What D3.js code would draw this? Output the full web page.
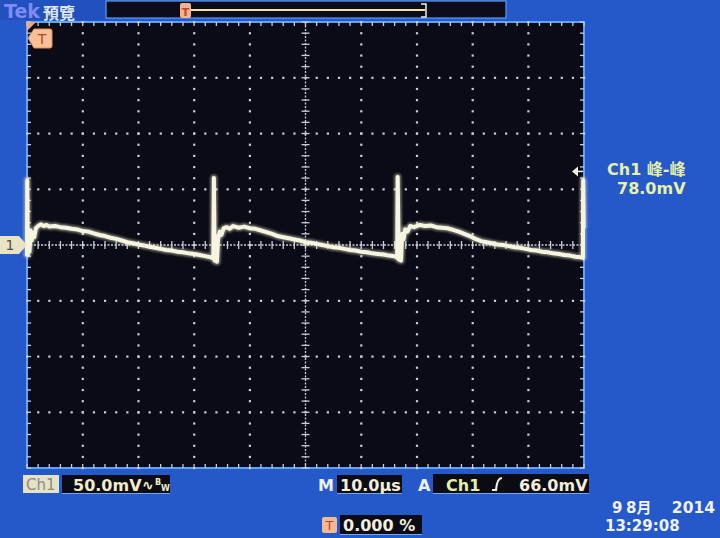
<!DOCTYPE html>
<html><head><meta charset="utf-8">
<script src="https://cdn.jsdelivr.net/npm/d3@7"></script>
<style>html,body{margin:0;padding:0;background:#2558c8;}svg{display:block;}</style>
</head><body>
<svg id="scope" width="720" height="538"></svg>
<script>
// ---- Data ----
const timeUs = [0,0.05,0.15,0.3,0.45,0.65,0.85,1.05,1.3,1.6,2,2.5,3,3.5,4,5,6,7,8,9,10,11,12,13,14,15,16,17,18,19,20,21,22,23,24,25,26,27,28,29,30,31,32,33,33.35,
 33.45,33.55,33.7,33.9,34.1,34.3,34.6,34.9,35.3,35.8,36.4,37,38,39,40,41,42,43,44,45,46,47,48,49,50,51,52,53,54,55,56,57,58,59,60,61,62,63,64,65,66,66.35,
 66.45,66.55,66.75,66.95,67.15,67.35,67.6,67.9,68.3,68.8,69.5,70.5,71.5,72.5,73.5,74.5,75.5,76.5,77.5,78.5,79.5,80.5,81.5,82.5,83.5,84.5,85.5,86.5,87.5,88.5,89.5,90.5,91.5,92.5,93.5,94.5,95.5,96.5,97.5,98.5,99.5,99.8,99.85,99.95];
const ch1mV = [-10,58,-9,14,-6,13,4,11,7,15,17,18.5,17,18,16.5,17,16,15.5,14.5,14,12.5,12,10.5,9,8,6.5,5.5,4,2.5,1.5,0.5,-0.5,-1.5,-2.5,-3.5,-4.5,-5,-6,-6.5,-7.5,-8,-9,-10,-11,-12,
 -12,60,-14,8,-15,5,12,9,15,16,14.5,17,15.5,16.5,15,14.5,13,11.5,10,8,7,6,5,4,2.5,2,1,0,-1,-2,-2.5,-3.5,-4.5,-5,-6,-6.5,-7.5,-8,-8.5,-9.5,-10,-11,
 -11.5,61,-13,6,-14,10,5,14,12,17,16,18,17,17.5,16,15.5,15,13.5,12,10,8,5.5,3.5,2.5,1.5,0.5,0,-1,-2,-2.5,-3.5,-4.5,-5,-6,-6.5,-7.5,-8,-9,-9.5,-10.5,-11,-11.5,58,15];
const gridTimeUs = [0,10,20,30,40,50,60,70,80,90,100];
const gridMv = [-200,-150,-100,-50,0,50,100,150,200];
const centerTimeUs = 50, centerMv = 0, triggerLevelMv = 66;

// ---- Layout ----
const svg = d3.select("#scope");
const L = 27, R = 584, T = 22, B = 468;
const x = d3.scaleLinear().domain([0,100]).range([L,R]);
const y = d3.scaleLinear().domain([-200,200]).range([B,T]);
const FONT = "'DejaVu Sans','Noto Sans CJK TC',sans-serif";

const defs = svg.append("defs");
const f = defs.append("filter").attr("id","glow").attr("x","-5%").attr("y","-20%").attr("width","110%").attr("height","140%");
f.append("feGaussianBlur").attr("stdDeviation",1.2);

// background
svg.append("rect").attr("width",720).attr("height",538).attr("fill","#2558c8");
svg.append("rect").attr("x",0).attr("y",0).attr("width",106).attr("height",20).attr("fill","#2250bd");

// top record bar
svg.append("rect").attr("x",106).attr("y",1).attr("width",400).attr("height",17).attr("fill","#0c0c1a").attr("stroke","#5a9cf5").attr("stroke-width",1.2);
svg.append("line").attr("x1",185).attr("x2",425).attr("y1",10).attr("y2",10).attr("stroke","#eee4a4").attr("stroke-width",2);
svg.append("path").attr("d","M421,4 H426 V17 H421").attr("fill","none").attr("stroke","#f0f0e8").attr("stroke-width",1.5);
svg.append("rect").attr("x",180).attr("y",3).attr("width",11).attr("height",15).attr("rx",2).attr("fill","#f2b38e");
svg.append("text").attr("x",185.5).attr("y",16).attr("text-anchor","middle").attr("font-family",FONT).attr("font-size",11).attr("font-weight","bold").attr("fill","#c2452a").text("T");
svg.append("text").attr("x",4).attr("y",18).attr("font-family",FONT).attr("font-size",19).attr("font-weight","bold").attr("fill","#7d8cf2").text("Tek");
svg.append("text").attr("x",43).attr("y",19).attr("font-family","'Noto Sans CJK TC',sans-serif").attr("font-size",16).attr("font-weight","bold").attr("fill","#dfe6f2").text("預覽");

// plot area
svg.append("rect").attr("x",L).attr("y",T).attr("width",R-L).attr("height",B-T).attr("fill","#0b0b17").attr("stroke","#5fa2f8").attr("stroke-width",2);

const g = svg.append("g");
const dotColor = "#c8cede";
const minorT = d3.range(0,100.01,2), minorV = d3.range(-200,200.01,10);
// dotted major gridlines
gridTimeUs.filter(t => t>0 && t<100 && t!==centerTimeUs).forEach(t => {
  minorV.forEach(v => g.append("rect").attr("x",x(t)-1).attr("y",y(v)-1).attr("width",2.2).attr("height",2.2).attr("fill",dotColor));
});
gridMv.filter(v => v>-200 && v<200 && v!==centerMv).forEach(v => {
  minorT.forEach(t => g.append("rect").attr("x",x(t)-1).attr("y",y(v)-1).attr("width",2.2).attr("height",2.2).attr("fill",dotColor));
});
// center crosshair
g.append("line").attr("x1",L).attr("x2",R).attr("y1",y(centerMv)).attr("y2",y(centerMv)).attr("stroke",dotColor).attr("stroke-width",1.3).attr("stroke-dasharray","2,1.5");
g.append("line").attr("y1",T).attr("y2",B).attr("x1",x(centerTimeUs)).attr("x2",x(centerTimeUs)).attr("stroke",dotColor).attr("stroke-width",1.3).attr("stroke-dasharray","2,1.5");
minorT.forEach(t => g.append("line").attr("x1",x(t)).attr("x2",x(t)).attr("y1",y(centerMv)-4).attr("y2",y(centerMv)+4).attr("stroke",dotColor).attr("stroke-width",1.3));
minorV.forEach(v => g.append("line").attr("y1",y(v)).attr("y2",y(v)).attr("x1",x(centerTimeUs)-4).attr("x2",x(centerTimeUs)+4).attr("stroke",dotColor).attr("stroke-width",1.3));
// edge ticks
minorT.forEach(t => {
  g.append("line").attr("x1",x(t)).attr("x2",x(t)).attr("y1",T).attr("y2",T+4).attr("stroke",dotColor).attr("stroke-width",1.3);
  g.append("line").attr("x1",x(t)).attr("x2",x(t)).attr("y1",B-4).attr("y2",B).attr("stroke",dotColor).attr("stroke-width",1.3);
});
minorV.forEach(v => {
  g.append("line").attr("y1",y(v)).attr("y2",y(v)).attr("x1",L).attr("x2",L+4).attr("stroke",dotColor).attr("stroke-width",1.3);
  g.append("line").attr("y1",y(v)).attr("y2",y(v)).attr("x1",R-4).attr("x2",R).attr("stroke",dotColor).attr("stroke-width",1.3);
});

// trace
const pts = timeUs.map((t,i) => [t, ch1mV[i]]);
const line = d3.line().x(d => x(d[0])).y(d => y(d[1]));
svg.append("path").attr("d",line(pts)).attr("fill","none").attr("stroke","#e8e6c4").attr("stroke-width",7).attr("stroke-linejoin","round").attr("opacity",0.5).attr("filter","url(#glow)");
svg.append("path").attr("d",line(pts)).attr("fill","none").attr("stroke","#f7f5e2").attr("stroke-width",4).attr("stroke-linejoin","round");

// markers
svg.append("path").attr("d","M27,22 L36,22 L27,31 Z").attr("fill","#f2a878");
svg.append("path").attr("d","M28,38 L34,29 L50,29 Q52,29 52,31 L52,46 Q52,48 50,48 L34,48 Z").attr("fill","#f6c197").attr("stroke","#e5895a").attr("stroke-width",1);
svg.append("text").attr("x",42).attr("y",44).attr("text-anchor","middle").attr("font-family",FONT).attr("font-size",14).attr("fill","#c4402a").text("T");
const y0 = y(0);
svg.append("path").attr("d",`M0,${y0-9} L19,${y0-9} L27,${y0} L19,${y0+9} L0,${y0+9} Z`).attr("fill","#e9e5c4");
svg.append("text").attr("x",10).attr("y",y0+5).attr("text-anchor","middle").attr("font-family",FONT).attr("font-size",14).attr("fill","#505048").text("1");
const yt = y(triggerLevelMv);
svg.append("path").attr("d",`M572,${yt} L578,${yt-5} L578,${yt+5} Z`).attr("fill","#f0f0e4");
svg.append("line").attr("x1",577).attr("x2",583).attr("y1",yt).attr("y2",yt).attr("stroke","#f0f0e4").attr("stroke-width",1.5);

// right readout
svg.append("text").attr("x",607).attr("y",175).attr("font-family",FONT).attr("font-size",16).attr("font-weight","bold").attr("fill","#e6f0a6").text("Ch1 峰-峰");
svg.append("text").attr("x",617).attr("y",194).attr("font-family",FONT).attr("font-size",16).attr("font-weight","bold").attr("fill","#e6f0a6").text("78.0mV");

// bottom readouts
svg.append("rect").attr("x",23).attr("y",475).attr("width",36).attr("height",18).attr("fill","#e6e2c6");
svg.append("text").attr("x",26).attr("y",490).attr("font-family",FONT).attr("font-size",15).attr("fill","#8c8c84").text("Ch1");
function box(x0,y0,w,h){
  svg.append("rect").attr("x",x0).attr("y",y0).attr("width",w).attr("height",h).attr("fill","#0b0b14");
  svg.append("line").attr("x1",x0).attr("x2",x0+w).attr("y1",y0+h+0.5).attr("y2",y0+h+0.5).attr("stroke","#6aaaf8").attr("stroke-width",1.2);
}
box(62,475,108,18);
svg.append("text").attr("x",73).attr("y",491).attr("font-family",FONT).attr("font-size",16).attr("font-weight","bold").attr("fill","#f1ecc6").text("50.0mV");
svg.append("text").attr("x",142).attr("y",490).attr("font-family",FONT).attr("font-size",14).attr("font-weight","bold").attr("fill","#f1ecc6").text("∿");
svg.append("text").attr("x",155).attr("y",485).attr("font-family",FONT).attr("font-size",8).attr("font-weight","bold").attr("fill","#f1ecc6").text("B");
svg.append("text").attr("x",161).attr("y",491).attr("font-family",FONT).attr("font-size",8).attr("font-weight","bold").attr("fill","#f1ecc6").text("W");

svg.append("text").attr("x",318).attr("y",491).attr("font-family",FONT).attr("font-size",16).attr("font-weight","bold").attr("fill","#eef0f6").text("M");
box(337,475,65,18);
svg.append("text").attr("x",340).attr("y",491).attr("font-family",FONT).attr("font-size",16).attr("font-weight","bold").attr("fill","#f1efdc").text("10.0µs");

svg.append("text").attr("x",418).attr("y",491).attr("font-family",FONT).attr("font-size",16).attr("font-weight","bold").attr("fill","#eef0f6").text("A");
box(433,474,156,19);
svg.append("text").attr("x",446).attr("y",491).attr("font-family",FONT).attr("font-size",16).attr("font-weight","bold").attr("fill","#e6f0a6").text("Ch1");
svg.append("path").attr("d","M492,490 L496,490 Q497,478 502,478").attr("fill","none").attr("stroke","#f1efdc").attr("stroke-width",2.2);
svg.append("text").attr("x",519).attr("y",491).attr("font-family",FONT).attr("font-size",16).attr("font-weight","bold").attr("fill","#f1efdc").text("66.0mV");

svg.append("rect").attr("x",322).attr("y",517).attr("width",15).attr("height",16).attr("rx",2).attr("fill","#f3b993");
svg.append("text").attr("x",329.5).attr("y",530).attr("text-anchor","middle").attr("font-family",FONT).attr("font-size",13).attr("fill","#c4402a").text("T");
box(340,515,82,19);
svg.append("text").attr("x",343).attr("y",531).attr("font-family",FONT).attr("font-size",16).attr("font-weight","bold").attr("fill","#f1efdc").text("0.000 %");

svg.append("text").attr("x",612).attr("y",513).attr("font-family",FONT).attr("font-size",15).attr("font-weight","bold").attr("fill","#f0f3fb").text("9");
svg.append("text").attr("x",626).attr("y",513).attr("font-family",FONT).attr("font-size",15).attr("font-weight","bold").attr("fill","#f0f3fb").text("8月");
svg.append("text").attr("x",715).attr("y",513).attr("text-anchor","end").attr("font-family",FONT).attr("font-size",15.5).attr("font-weight","bold").attr("fill","#f0f3fb").text("2014");
svg.append("text").attr("x",605).attr("y",531).attr("font-family",FONT).attr("font-size",15).attr("font-weight","bold").attr("fill","#f0f3fb").text("13:29:08");
</script>
</body></html>
